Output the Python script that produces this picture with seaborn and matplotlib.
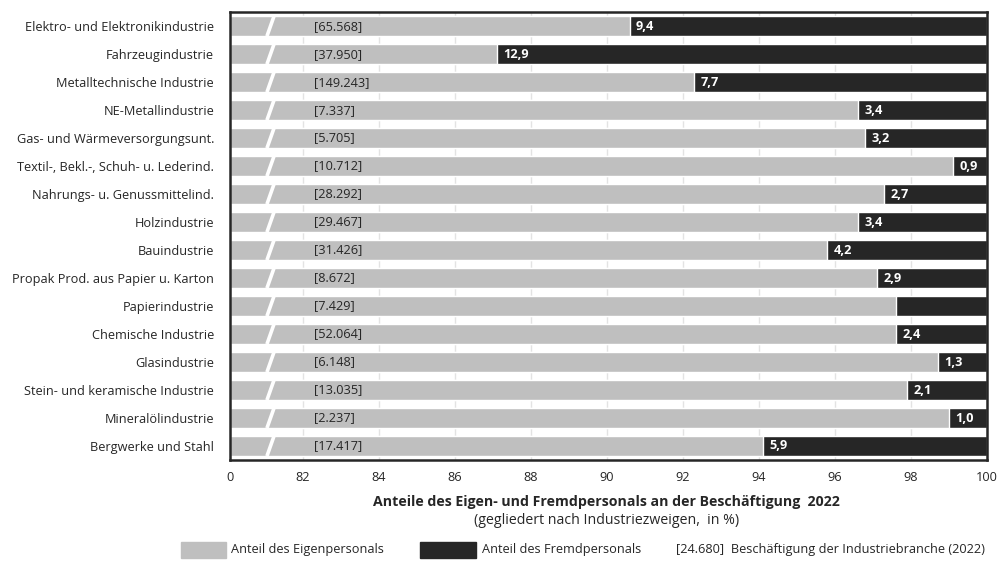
import numpy as np
import pandas as pd
import matplotlib
matplotlib.use("Agg")
import matplotlib.pyplot as plt
from matplotlib.patches import Rectangle
import seaborn as sns

# Industry branches, top to bottom
branches = [
    "Elektro- und Elektronikindustrie",
    "Fahrzeugindustrie",
    "Metalltechnische Industrie",
    "NE-Metallindustrie",
    "Gas- und Wärmeversorgungsunt.",
    "Textil-, Bekl.-, Schuh- u. Lederind.",
    "Nahrungs- u. Genussmittelind.",
    "Holzindustrie",
    "Bauindustrie",
    "Propak Prod. aus Papier u. Karton",
    "Papierindustrie",
    "Chemische Industrie",
    "Glasindustrie",
    "Stein- und keramische Industrie",
    "Mineralölindustrie",
    "Bergwerke und Stahl",
]
# Share of external (agency) staff in % of employment
fremd_share = [9.4, 12.9, 7.7, 3.4, 3.2, 0.9, 2.7, 3.4, 4.2, 2.9, 2.4, 2.4, 1.3, 2.1, 1.0, 5.9]
# Whether the external share is printed on the bar
show_value = [True, True, True, True, True, True, True, True, True, True, False,
              True, True, True, True, True]
# Total employment per branch (2022)
employment = [65568, 37950, 149243, 7337, 5705, 10712, 28292, 29467, 31426, 8672,
              7429, 52064, 6148, 13035, 2237, 17417]
x_ticks = [0, 82, 84, 86, 88, 90, 92, 94, 96, 98, 100]

GREY = "#bfbfbf"
DARK = "#262626"
TEXT = "#262626"
FONT = ["Open Sans", "DejaVu Sans"]
FS = 9.2

sns.set_theme(style="white")
plt.rcParams["font.family"] = FONT

df = pd.DataFrame({
    "branch": branches,
    "total": [100.0] * len(branches),
    "eigen": [100.0 - f for f in fremd_share],
    "fremd": fremd_share,
})

fig = plt.figure(figsize=(10, 5.62), dpi=100)
ax = fig.add_axes([0.230, 0.1815, 0.757, 0.797])

# Full bar in the dark colour, own-staff share drawn over it in grey
sns.barplot(data=df, x="total", y="branch", color=DARK, width=0.7,
            saturation=1, ax=ax, zorder=2)
sns.barplot(data=df, x="eigen", y="branch", color=GREY, width=0.7,
            saturation=1, ax=ax, zorder=3)

# Broken axis: 0..82 is squeezed into a short stretch
BREAK = 82.0
SQUEEZE = 1.921


def fwd(x):
    x = np.asarray(x, dtype=float)
    return np.where(x <= BREAK, x * SQUEEZE / BREAK, SQUEEZE + (x - BREAK))


def inv(y):
    y = np.asarray(y, dtype=float)
    return np.where(y <= SQUEEZE, y * BREAK / SQUEEZE, y - SQUEEZE + BREAK)


ax.set_xscale("function", functions=(fwd, inv))
ax.set_xlim(0, 100)
ax.set_ylim(len(branches) - 0.5, -0.5)
ax.set_xticks(x_ticks)
ax.set_xticklabels([str(t) for t in x_ticks])

ax.grid(axis="x", color="#e3e3e3", lw=1.0, zorder=0)
ax.grid(axis="y", visible=False)
ax.set_axisbelow(True)

# Break marks across each bar
for i in range(len(branches)):
    ax.plot([41.5, 49.5], [i + 0.36, i - 0.36], color="white", lw=2.6,
            solid_capstyle="butt", zorder=5)

# Employment counts and external-staff shares
for i, (emp, fr, show) in enumerate(zip(employment, fremd_share, show_value)):
    emp_txt = "[" + f"{emp:,}".replace(",", ".") + "]"
    ax.annotate(emp_txt, xy=(82, i), xytext=(7.8, 0), textcoords="offset points",
                ha="left", va="center", fontsize=FS, color=TEXT, zorder=6)
    if show:
        ax.annotate(f"{fr:.1f}".replace(".", ","), xy=(100 - fr, i), xytext=(4.5, 0),
                    textcoords="offset points", ha="left", va="center",
                    fontsize=FS, fontweight="bold", color="white", zorder=6)

ax.set_xlabel("")
ax.set_ylabel("")
ax.tick_params(axis="y", length=0, pad=11.5, labelsize=FS, labelcolor=TEXT)
ax.tick_params(axis="x", length=0, pad=8, labelsize=FS, labelcolor=TEXT)
for s in ax.spines.values():
    s.set_visible(True)
    s.set_color(DARK)
    s.set_linewidth(1.8)
    s.set_zorder(7)

fig.text(0.606, 1 - 502 / 562, "Anteile des Eigen- und Fremdpersonals an der Beschäftigung  2022",
         ha="center", va="center", fontsize=10.2, fontweight="bold", color=TEXT)
fig.text(0.607, 1 - 520 / 562, "(gegliedert nach Industriezweigen,  in %)",
         ha="center", va="center", fontsize=10.2, color=TEXT)

# Legend row
ly = 1 - 550 / 562
lh = 16 / 562
fig.patches.append(Rectangle((0.181, ly - lh / 2), 0.045, lh, transform=fig.transFigure,
                             color=GREY, figure=fig))
fig.text(0.231, ly, "Anteil des Eigenpersonals", ha="left", va="center",
         fontsize=FS, color=TEXT)
fig.patches.append(Rectangle((0.420, ly - lh / 2), 0.056, lh, transform=fig.transFigure,
                             color=DARK, figure=fig))
fig.text(0.482, ly, "Anteil des Fremdpersonals", ha="left", va="center",
         fontsize=FS, color=TEXT)
fig.text(0.676, ly, "[24.680]  Beschäftigung der Industriebranche (2022)", ha="left",
         va="center", fontsize=FS, color=TEXT)

fig.savefig("out.png", dpi=100, facecolor="white")
